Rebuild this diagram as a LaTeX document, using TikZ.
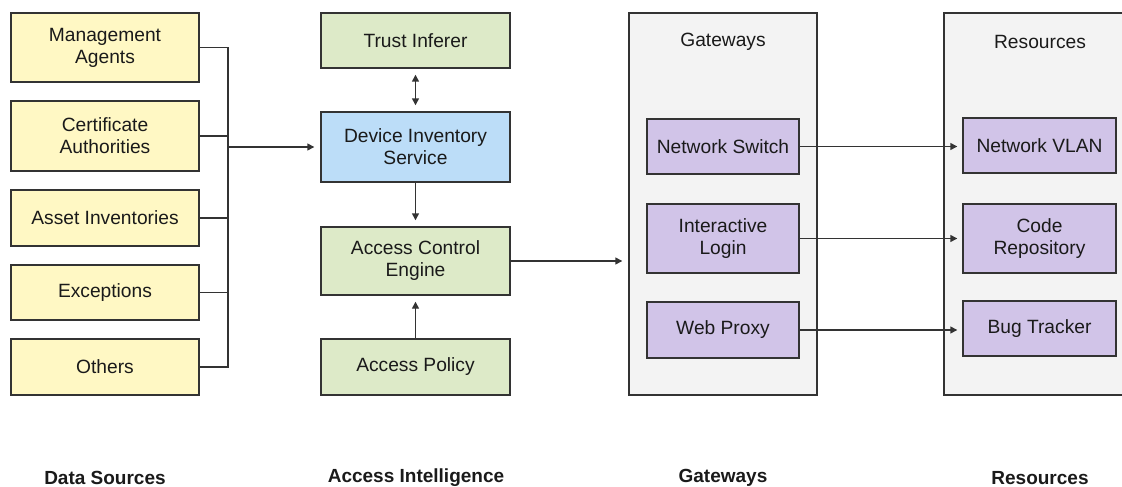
\documentclass[tikz,border=0pt]{standalone}
\usepackage{fontspec}
\setmainfont{Liberation Sans}
\usetikzlibrary{arrows.meta}
\definecolor{ylw}{HTML}{FFF8C4}
\definecolor{grn}{HTML}{DDEAC8}
\definecolor{blu}{HTML}{BCDDF8}
\definecolor{pur}{HTML}{D1C4E8}
\definecolor{gry}{HTML}{F3F3F3}
\definecolor{edge}{HTML}{333333}
\definecolor{txt}{HTML}{1A1A1A}
\tikzset{
  x=1pt,y=-1pt,
  every node/.style={font=\fontsize{19.2}{22}\selectfont, text=txt, align=center},
  box/.style={draw=edge, line width=1.4pt, inner sep=0pt},
  ybox/.style={box, fill=ylw, minimum width=188pt},
  gbox/.style={box, fill=grn, minimum width=189pt},
  bbox/.style={box, fill=blu, minimum width=189pt},
  pbox/.style={box, fill=pur, minimum width=153pt},
  cont/.style={box, fill=gry},
  wire/.style={draw=edge, line width=1.4pt},
  arr/.style={wire, -{Triangle[length=7pt,width=7pt]}, shorten >=6pt},
  darr/.style={wire, {Triangle[length=7pt,width=7pt]}-{Triangle[length=7pt,width=7pt]}, shorten >=6pt, shorten <=6pt},
  caption/.style={font=\bfseries\fontsize{19}{22}\selectfont}
}
\begin{document}
\begin{tikzpicture}
\useasboundingbox (0,0) rectangle (1122,487);
\clip (0,0) rectangle (1122,487);
\fill[white] (0,0) rectangle (1122,487);

% containers
\node[cont, minimum width=188pt, minimum height=382pt] (gw) at (723,204) {};
\node[cont, minimum width=196pt, minimum height=382pt] (rs) at (1042,204) {};
\node (gwt) at (723,42) {Gateways};
\node (rst) at (1040,42) {Resources};

% data sources
\node[ybox, minimum height=69pt] (ma) at (105,47.5) {Management\\Agents};
\node[ybox, minimum height=70pt] (ca) at (105,136) {Certificate\\Authorities};
\node[ybox, minimum height=56pt] (ai) at (105,218) {Asset Inventories};
\node[ybox, minimum height=55pt] (ex) at (105,292.5) {Exceptions};
\node[ybox, minimum height=56pt] (ot) at (105,367) {Others};

% access intelligence
\node[gbox, minimum height=55pt] (ti) at (415.5,40.5) {Trust Inferer};
\node[bbox, minimum height=70pt] (dis) at (415.5,147) {Device Inventory\\Service};
\node[gbox, minimum height=68pt] (ace) at (415.5,261) {Access Control\\Engine};
\node[gbox, minimum height=56pt] (ap) at (415.5,367) {Access Policy};

% gateways
\node[pbox, minimum width=152pt, minimum height=55pt] (ns) at (723,146.5) {Network Switch};
\node[pbox, minimum width=152pt, minimum height=69pt] (il) at (723,238.5) {Interactive\\Login};
\node[pbox, minimum width=152pt, minimum height=56pt] (wp) at (723,330) {Web Proxy};

% resources
\node[pbox, minimum height=55pt] (vlan) at (1039.5,145.5) {Network VLAN};
\node[pbox, minimum height=69pt] (code) at (1039.5,238.5) {Code\\Repository};
\node[pbox, minimum height=55pt] (bug) at (1039.5,328.5) {Bug Tracker};

% bus
\coordinate (bt) at (228,47.5);
\coordinate (bm) at (228,147);
\draw[wire] (ma.east) -- (bt) -- (bt |- ot.east) -- (ot.east);
\draw[wire] (ca.east) -- (ca.east -| bt);
\draw[wire] (ai.east) -- (ai.east -| bt);
\draw[wire] (ex.east) -- (ex.east -| bt);
\draw[arr] (bm) -- (dis.west);

% intelligence arrows
\draw[darr] (ti.south) -- (dis.north);
\draw[arr] (dis.south) -- (ace.north);
\draw[arr] (ap.north) -- (ace.south);
\draw[arr] (ace.east) -- (ace.east -| gw.west);

% gateway -> resource
\draw[arr, shorten >=5pt] (ns.east) -- (ns.east -| vlan.west);
\draw[arr, shorten >=5pt] (il.east) -- (il.east -| code.west);
\draw[arr, shorten >=5pt] (wp.east) -- (wp.east -| bug.west);

% captions
\node[caption] (c1) at (105,478) {Data Sources};
\node[caption] (c2) at (416,478) {Access Intelligence};
\node[caption] (c3) at (723,478) {Gateways};
\node[caption] (c4) at (1040,478) {Resources};
\end{tikzpicture}
\end{document}
